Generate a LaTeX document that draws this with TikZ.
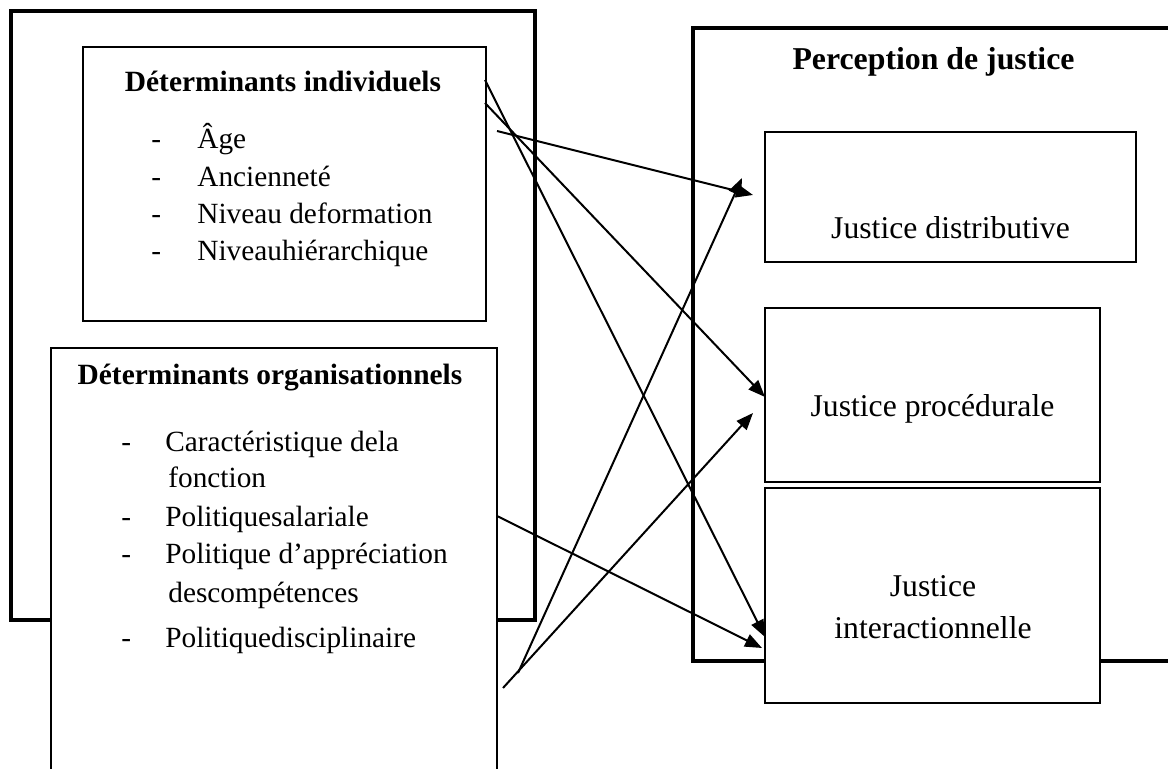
\documentclass[tikz,border=0pt]{standalone}
\usepackage{fontspec}
\setmainfont{Liberation Serif}
\usetikzlibrary{arrows.meta}
\begin{document}
\begin{tikzpicture}[x=0.5pt,y=-0.5pt,
  frame/.style={line width=2.4pt},
  box/.style={draw, line width=0.7pt, fill=white, anchor=north west, inner sep=0pt, outer sep=0pt},
  link/.style={line width=1pt, -{Triangle[length=8.5pt,width=6.6pt]}},
  item/.style={anchor=base west, inner sep=0pt, font=\fontsize{14.65pt}{17pt}\selectfont},
  bullet/.style={anchor=base west, inner sep=0pt, font=\fontsize{14.65pt}{17pt}\selectfont},
  dettitle/.style={anchor=base, inner sep=0pt, font=\fontsize{14.7pt}{17pt}\selectfont\bfseries},
  ptitle/.style={anchor=base, inner sep=0pt, font=\fontsize{15.9pt}{18pt}\selectfont\bfseries},
  jtext/.style={anchor=base, inner sep=0pt, font=\fontsize{15.85pt}{18pt}\selectfont}]
\useasboundingbox (0,0) rectangle (1168,769);

% outer frames
\draw[frame] (11,11) rectangle (535,620);
\draw[frame] (1190,28) -- (693,28) -- (693,661) -- (1190,661);

% boxes
\node[box, minimum width=201.5pt, minimum height=137pt] (indiv) at (83,47) {};
\node[box, minimum width=223pt, minimum height=221pt] (org) at (51,348) {};
\node[box, minimum width=185.5pt, minimum height=65pt] (distr) at (765,132) {};
\node[box, minimum width=167.5pt, minimum height=87pt] (proc) at (765,308) {};
\node[box, minimum width=167.5pt, minimum height=107.5pt] (inter) at (765,488) {};

% texts
\node[dettitle] (tindiv) at (283,92) {Déterminants individuels};
\node[bullet] (d1) at (151,149) {-};
\node[item] (i1) at (197,149) {Âge};
\node[bullet] (d2) at (151,187) {-};
\node[item] (i2) at (197,187) {Ancienneté};
\node[bullet] (d3) at (151,224) {-};
\node[item] (i3) at (197,224) {Niveau deformation};
\node[bullet] (d4) at (151,261) {-};
\node[item] (i4) at (197,261) {Niveauhiérarchique};

\node[dettitle] (torg) at (270,385) {Déterminants organisationnels};
\node[bullet] (b1) at (121,452) {-};
\node[item] (o1) at (165,452) {Caractéristique dela};
\node[item] (o1b) at (168,488) {fonction};
\node[bullet] (b2) at (121,527) {-};
\node[item] (o2) at (165,527) {Politiquesalariale};
\node[bullet] (b3) at (121,564) {-};
\node[item] (o3) at (165,564) {Politique d’appréciation};
\node[item] (o3b) at (168,603) {descompétences};
\node[bullet] (b4) at (121,648) {-};
\node[item] (o4) at (165,648) {Politiquedisciplinaire};

\node[ptitle] (tperc) at (933.5,70) {Perception de justice};
\node[jtext] (tdistr) at (950.5,239) {Justice distributive};
\node[jtext] (tproc) at (932.5,417) {Justice procédurale};
\node[jtext] (tinter1) at (933,597) {Justice};
\node[jtext] (tinter2) at (933,639) {interactionnelle};

% connector end points
\coordinate (s1) at (497,131);
\coordinate (t1) at (753,195);
\coordinate (s2) at (485,80);
\coordinate (t2) at (765,637);
\coordinate (s3) at (485,103);
\coordinate (t3) at (765,397);
\coordinate (s4) at (518,673);
\coordinate (t4) at (742,178);
\coordinate (s5) at (503,688);
\coordinate (t5) at (753,413);
\coordinate (s6) at (497,516);
\coordinate (t6) at (762,648);

\draw[link] (s1) -- (t1);
\draw[link] (s2) -- (t2);
\draw[link] (s3) -- (t3);
\draw[link] (s4) -- (t4);
\draw[link] (s5) -- (t5);
\draw[link] (s6) -- (t6);
\end{tikzpicture}
\end{document}
